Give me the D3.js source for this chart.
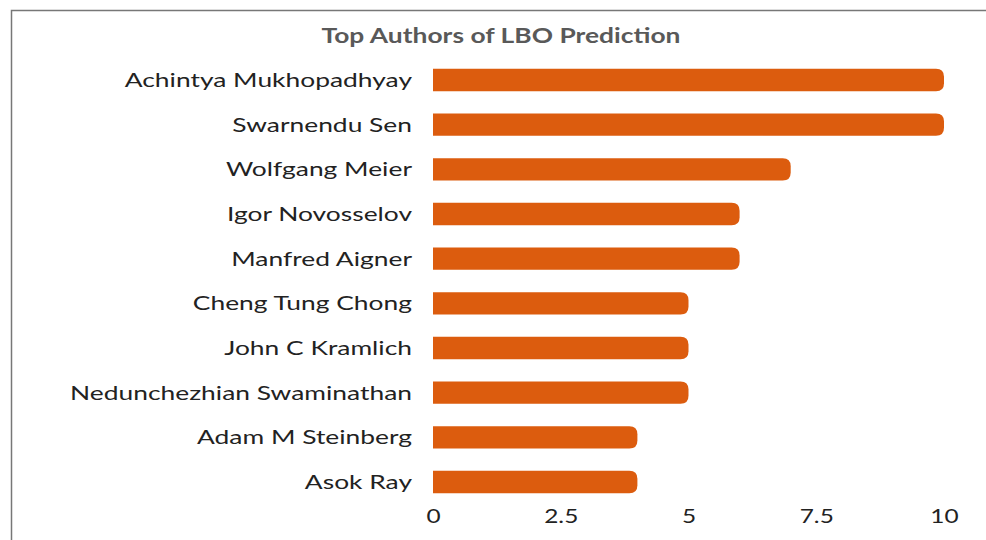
<!DOCTYPE html>
<html>
<head>
<meta charset="utf-8">
<script src="https://cdn.jsdelivr.net/npm/d3@7"></script>
<style>
  body { margin: 0; background: #fff; }
  text { font-family: Lato, "Open Sans", sans-serif; }
</style>
</head>
<body>
<svg width="986" height="540"></svg>
<script>
// Chart data
const authors = [
  "Achintya Mukhopadhyay", "Swarnendu Sen", "Wolfgang Meier", "Igor Novosselov",
  "Manfred Aigner", "Cheng Tung Chong", "John C Kramlich",
  "Nedunchezhian Swaminathan", "Adam M Steinberg", "Asok Ray"
];
const counts = [10, 10, 7, 6, 6, 5, 5, 5, 4, 4];
const xTicks = [0, 2.5, 5, 7.5, 10];

const stretch = 1.32; // text in the picture is drawn wide

const svg = d3.select("svg");

// frame
svg.append("path")
  .attr("d", "M11.5,540 V10.5 H986")
  .attr("fill", "none")
  .attr("stroke", "#777")
  .attr("stroke-width", 1.5);

const x = d3.scaleLinear().domain([0, 10]).range([433, 944]);
const y = d3.scaleBand()
  .domain(authors)
  .range([57.7, 504.3])
  .paddingInner(0.5)
  .paddingOuter(0.25);

// title
svg.append("text")
  .attr("transform", `translate(501,43) scale(${stretch},1)`)
  .attr("text-anchor", "middle")
  .style("font-size", "20px")
  .style("font-weight", "bold")
  .attr("fill", "#595959")
  .text("Top Authors of LBO Prediction");

// bars with rounded right end
const r = 8;
function barPath(v, name) {
  const x0 = x(0), x1 = x(v), y0 = y(name), h = y.bandwidth();
  return `M${x0},${y0} H${x1 - r} Q${x1},${y0} ${x1},${y0 + r} V${y0 + h - r} Q${x1},${y0 + h} ${x1 - r},${y0 + h} H${x0} Z`;
}

svg.selectAll(".bar")
  .data(authors)
  .enter()
  .append("path")
  .attr("class", "bar")
  .attr("d", (d, i) => barPath(counts[i], d))
  .attr("fill", "#dc5c0e");

// category labels
svg.selectAll(".label")
  .data(authors)
  .enter()
  .append("text")
  .attr("class", "label")
  .attr("transform", d => `translate(412,${y(d) + y.bandwidth() / 2}) scale(${stretch},1)`)
  .attr("dy", "0.35em")
  .attr("text-anchor", "end")
  .style("font-size", "20px")
  .attr("fill", "#222")
  .text(d => d);

// x axis (labels only)
const xAxis = svg.append("g")
  .attr("transform", "translate(0,505)")
  .call(d3.axisBottom(x).tickValues(xTicks).tickSize(0).tickPadding(4).tickFormat(d3.format("")));
xAxis.select(".domain").remove();
xAxis.selectAll("text")
  .attr("transform", "scale(1.22,1)")
  .style("font-size", "20px")
  .style("font-family", "Lato, sans-serif")
  .attr("fill", "#222");
</script>
</body>
</html>
